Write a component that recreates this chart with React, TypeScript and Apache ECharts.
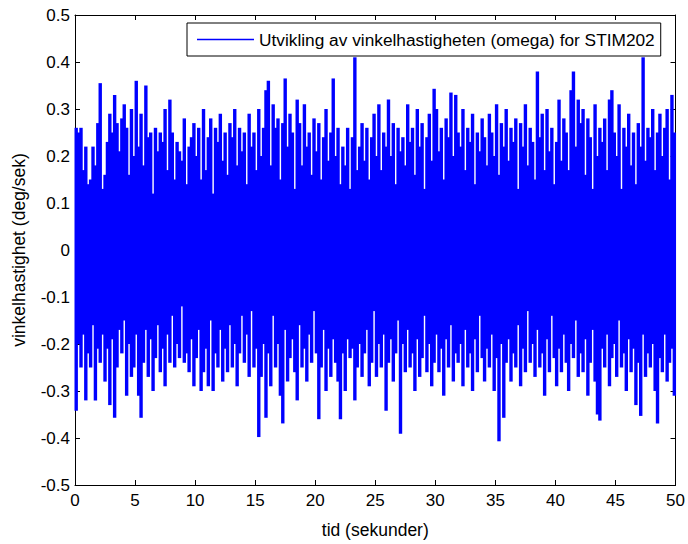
import React, { useEffect, useRef } from "react";
import * as echarts from "echarts";

// Time step between successive columns (seconds)
const STEP = 0.2;

// Upper envelope (column maxima), t = 0, 0.2, ... 49.8
const upperValues: number[] = [
  0.26, 0.25, 0.26, 0.17, 0.22, 0.14, 0.15, 0.22, 0.18, 0.27,
  0.355, 0.13, 0.16, 0.23, 0.29, 0.25, 0.33, 0.27, 0.21, 0.28,
  0.31, 0.26, 0.16, 0.30, 0.20, 0.36, 0.22, 0.29, 0.18, 0.35,
  0.24, 0.25, 0.12, 0.26, 0.21, 0.25, 0.23, 0.30, 0.17, 0.32,
  0.25, 0.15, 0.23, 0.21, 0.19, 0.28, 0.14, 0.22, 0.24, 0.27,
  0.20, 0.26, 0.15, 0.30, 0.17, 0.24, 0.28, 0.12, 0.26, 0.23,
  0.29, 0.19, 0.25, 0.16, 0.27, 0.24, 0.30, 0.18, 0.26, 0.21,
  0.25, 0.14, 0.29, 0.22, 0.25, 0.17, 0.30, 0.20, 0.26, 0.34,
  0.36, 0.18, 0.31, 0.26, 0.28, 0.15, 0.27, 0.365, 0.22, 0.29,
  0.25, 0.13, 0.32, 0.27, 0.18, 0.31, 0.22, 0.25, 0.16, 0.28,
  0.21, 0.27, 0.15, 0.24, 0.30, 0.19, 0.25, 0.365, 0.20, 0.26,
  0.14, 0.22, 0.18, 0.26, 0.13, 0.24, 0.41, 0.17, 0.22, 0.27,
  0.19, 0.26, 0.15, 0.24, 0.29, 0.20, 0.31, 0.17, 0.25, 0.22,
  0.32, 0.20, 0.27, 0.14, 0.26, 0.21, 0.24, 0.18, 0.31, 0.23,
  0.26, 0.16, 0.30, 0.22, 0.27, 0.13, 0.24, 0.29, 0.19, 0.343,
  0.30, 0.21, 0.26, 0.15, 0.28, 0.24, 0.335, 0.20, 0.33, 0.25,
  0.22, 0.30, 0.17, 0.26, 0.23, 0.29, 0.14, 0.25, 0.21, 0.28,
  0.24, 0.18, 0.29, 0.25, 0.20, 0.31, 0.16, 0.27, 0.22, 0.30,
  0.19, 0.26, 0.23, 0.28, 0.13, 0.27, 0.22, 0.31, 0.18, 0.26,
  0.23, 0.15, 0.38, 0.24, 0.29, 0.17, 0.30, 0.21, 0.26, 0.14,
  0.23, 0.32, 0.19, 0.28, 0.25, 0.17, 0.34, 0.38, 0.22, 0.32,
  0.27, 0.30, 0.16, 0.28, 0.24, 0.13, 0.31, 0.20, 0.26, 0.23,
  0.28, 0.17, 0.32, 0.34, 0.25, 0.20, 0.31, 0.13, 0.26, 0.22,
  0.29, 0.18, 0.25, 0.14, 0.27, 0.22, 0.41, 0.19, 0.26, 0.24,
  0.30, 0.17, 0.25, 0.29, 0.20, 0.26, 0.30, 0.15, 0.33, 0.25,
];

// Lower envelope (column minima), same columns
const lowerValues: number[] = [
  -0.342, -0.20, -0.25, -0.18, -0.32, -0.22, -0.25, -0.16, -0.32, -0.21,
  -0.24, -0.18, -0.28, -0.21, -0.33, -0.19, -0.357, -0.25, -0.17, -0.22,
  -0.15, -0.31, -0.20, -0.27, -0.25, -0.18, -0.31, -0.357, -0.24, -0.17,
  -0.27, -0.19, -0.30, -0.23, -0.16, -0.26, -0.21, -0.29, -0.18, -0.24,
  -0.14, -0.25, -0.20, -0.23, -0.12, -0.24, -0.22, -0.26, -0.19, -0.29,
  -0.23, -0.17, -0.30, -0.26, -0.21, -0.29, -0.15, -0.30, -0.22, -0.25,
  -0.17, -0.28, -0.21, -0.26, -0.16, -0.25, -0.20, -0.29, -0.22, -0.14,
  -0.24, -0.18, -0.27, -0.13, -0.25, -0.21, -0.398, -0.27, -0.20, -0.357,
  -0.22, -0.29, -0.14, -0.25, -0.20, -0.31, -0.369, -0.17, -0.28, -0.23,
  -0.19, -0.26, -0.32, -0.16, -0.25, -0.21, -0.28, -0.18, -0.24, -0.13,
  -0.22, -0.36, -0.25, -0.17, -0.30, -0.21, -0.27, -0.19, -0.24, -0.28,
  -0.36, -0.22, -0.30, -0.19, -0.23, -0.21, -0.32, -0.25, -0.20, -0.27,
  -0.22, -0.17, -0.29, -0.24, -0.13, -0.27, -0.20, -0.25, -0.18, -0.342,
  -0.24, -0.19, -0.28, -0.22, -0.15, -0.391, -0.20, -0.26, -0.17, -0.25,
  -0.22, -0.30, -0.19, -0.27, -0.23, -0.14, -0.26, -0.20, -0.29, -0.24,
  -0.18, -0.26, -0.21, -0.31, -0.19, -0.25, -0.16, -0.28, -0.22, -0.24,
  -0.20, -0.29, -0.17, -0.25, -0.22, -0.30, -0.19, -0.26, -0.14, -0.23,
  -0.28, -0.21, -0.25, -0.18, -0.30, -0.23, -0.407, -0.20, -0.357, -0.24,
  -0.19, -0.28, -0.22, -0.25, -0.16, -0.29, -0.21, -0.26, -0.13, -0.24,
  -0.20, -0.27, -0.17, -0.25, -0.22, -0.31, -0.19, -0.26, -0.14, -0.23,
  -0.29, -0.21, -0.26, -0.18, -0.24, -0.30, -0.20, -0.23, -0.15, -0.27,
  -0.22, -0.26, -0.19, -0.31, -0.24, -0.17, -0.28, -0.35, -0.363, -0.21,
  -0.25, -0.18, -0.29, -0.23, -0.20, -0.27, -0.15, -0.25, -0.22, -0.30,
  -0.19, -0.26, -0.21, -0.33, -0.24, -0.353, -0.18, -0.27, -0.22, -0.25,
  -0.20, -0.30, -0.369, -0.23, -0.26, -0.18, -0.28, -0.24, -0.21, -0.31,
];

const xTicks = [0, 5, 10, 15, 20, 25, 30, 35, 40, 45, 50];
const yTicks = [-0.5, -0.4, -0.3, -0.2, -0.1, 0, 0.1, 0.2, 0.3, 0.4, 0.5];

const seriesName = "Utvikling av vinkelhastigheten (omega) for STIM202";
const xName = "tid (sekunder)";
const yName = "vinkelhastighet (deg/sek)";

function columns(vals: number[]): [number, number][] {
  return vals.map((v, i) => [+(i * STEP + STEP / 2).toFixed(3), v]);
}

const FONT = "'Liberation Sans', Arial, sans-serif";
const BLUE = "#0000ff";

export default function App() {
  const ref = useRef<HTMLDivElement | null>(null);
  useEffect(() => {
    if (!ref.current) return;
    const chart = echarts.init(ref.current, undefined, { renderer: "svg" });
    const axisCommon = {
      type: "value" as const,
      axisLine: { show: true, onZero: false, lineStyle: { color: "#000", width: 1 } },
      axisTick: { show: true, inside: true, length: 5, lineStyle: { color: "#000" } },
      splitLine: { show: false },
    };
    const barCommon = {
      name: seriesName,
      type: "bar" as const,
      xAxisIndex: 0,
      yAxisIndex: 0,
      barWidth: 3.4,
      barGap: "-100%",
      itemStyle: { color: BLUE, borderWidth: 0 },
      z: 1,
    };
    chart.setOption({
      animation: false,
      backgroundColor: "#fff",
      textStyle: { fontFamily: FONT },
      grid: { left: 75, right: 9, top: 15, bottom: 56, containLabel: false },
      legend: {
        show: true,
        left: 187,
        top: 23,
        orient: "horizontal",
        padding: [8, 6, 8, 10],
        borderColor: "#000",
        borderWidth: 1,
        backgroundColor: "#fff",
        icon: "rect",
        itemWidth: 57,
        itemHeight: 1.5,
        itemGap: 5,
        textStyle: { fontFamily: FONT, fontSize: 17.3, color: "#000" },
        data: [seriesName],
      },
      xAxis: [
        {
          ...axisCommon,
          position: "bottom",
          min: xTicks[0],
          max: xTicks[xTicks.length - 1],
          interval: xTicks[1] - xTicks[0],
          name: xName,
          nameLocation: "middle",
          nameGap: 36,
          nameTextStyle: { fontFamily: FONT, fontSize: 17.5, color: "#000" },
          axisLabel: { show: true, margin: 7, fontFamily: FONT, fontSize: 17, color: "#000" },
        },
        {
          ...axisCommon,
          position: "top",
          min: xTicks[0],
          max: xTicks[xTicks.length - 1],
          interval: xTicks[1] - xTicks[0],
          axisLabel: { show: false },
        },
      ],
      yAxis: [
        {
          ...axisCommon,
          position: "left",
          min: yTicks[0],
          max: yTicks[yTicks.length - 1],
          interval: 0.1,
          name: yName,
          nameLocation: "middle",
          nameGap: 47,
          nameTextStyle: { fontFamily: FONT, fontSize: 17.5, color: "#000" },
          axisLabel: {
            show: true,
            margin: 5,
            fontFamily: FONT,
            fontSize: 17,
            color: "#000",
            formatter: (v: number) => String(Math.round(v * 10) / 10),
          },
        },
        {
          ...axisCommon,
          position: "right",
          min: yTicks[0],
          max: yTicks[yTicks.length - 1],
          interval: 0.1,
          axisLabel: { show: false },
        },
      ],
      series: [
        { ...barCommon, data: columns(upperValues) },
        { ...barCommon, data: columns(lowerValues) },
      ],
    });
    return () => chart.dispose();
  }, []);
  return (
    <div
      ref={ref}
      style={{ position: "absolute", left: 0, top: 0, width: 688, height: 544 }}
    />
  );
}
